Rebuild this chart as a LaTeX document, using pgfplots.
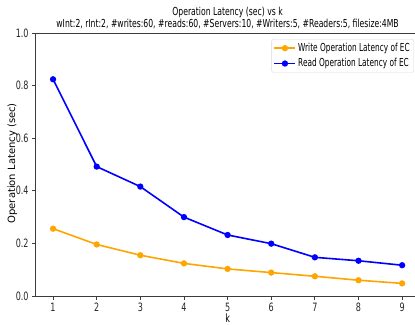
\documentclass[border=0pt]{standalone}
\usepackage{fontspec}
\setmainfont{DejaVu Sans}
\newfontfamily\nf[FakeStretch=0.70]{DejaVu Sans}
\newfontfamily\lf[FakeStretch=0.67]{DejaVu Sans}
\usepackage{pgfplots}
\pgfplotsset{compat=1.18}
\definecolor{mplorange}{RGB}{255,165,0}
\definecolor{mplblue}{RGB}{0,0,255}
\definecolor{spine}{RGB}{60,60,60}
\begin{document}
\begin{tikzpicture}
\begin{axis}[
  name=ax, at={(0,0)}, anchor=south west,
  scale only axis, width=384pt, height=263pt,
  xmin=0.6, xmax=9.4, ymin=0, ymax=1,
  xtick={1,2,3,4,5,6,7,8,9}, ytick={0,0.2,0.4,0.6,0.8,1.0},
  yticklabel style={/pgf/number format/.cd, fixed, fixed zerofill, precision=1},
  /pgf/number format/assume math mode=true,
  tick label style={font=\fontsize{11.5}{13}\nf, text=black!85},
  tick align=outside, tick pos=left, major tick length=3.5pt,
  axis line style={spine, line width=0.8pt},
  every tick/.style={spine, line width=0.8pt},
  legend style={at={(0.9854,0.977)}, anchor=north east, draw=black!15, rounded corners=2pt,
    fill=white, font=\fontsize{11}{13}\lf, inner xsep=2pt, inner ysep=2pt, row sep=1.5pt},
  legend cell align=left,
  legend image code/.code={\draw[mark repeat=2,mark phase=2,#1] plot coordinates {(0pt,0pt) (10.5pt,0pt) (21pt,0pt)};},
]
\addplot[color=mplorange, line width=1.6pt, mark=*, mark size=2.3pt] coordinates {
(1,0.256) (2,0.196) (3,0.155) (4,0.124) (5,0.103) (6,0.089) (7,0.075) (8,0.060) (9,0.048)};
\addlegendentry{Write Operation Latency of EC}
\addplot[color=mplblue, line width=1.6pt, mark=*, mark size=2.3pt] coordinates {
(1,0.824) (2,0.492) (3,0.416) (4,0.300) (5,0.232) (6,0.199) (7,0.147) (8,0.134) (9,0.117)};
\addlegendentry{Read Operation Latency of EC}
\end{axis}
\node[anchor=base, font=\fontsize{11}{13}\nf] at (192pt,280.3pt) {Operation Latency (sec) vs k};
\node[anchor=base, font=\fontsize{11}{13}\nf] at (192pt,268.5pt) {wInt:2, rInt:2, \#writes:60, \#reads:60, \#Servers:10, \#Writers:5, \#Readers:5, filesize:4MB};
\node[anchor=base, font=\fontsize{11.5}{13}\nf] at (192pt,-26.3pt) {k};
\node[anchor=base, rotate=90, font=\fontsize{10}{12}\selectfont] at (-20.6pt,132.7pt) {Operation Latency (sec)};
\pgfresetboundingbox
\path (-35.6pt,-28pt) rectangle (379.4pt,296pt);
\end{tikzpicture}
\end{document}
